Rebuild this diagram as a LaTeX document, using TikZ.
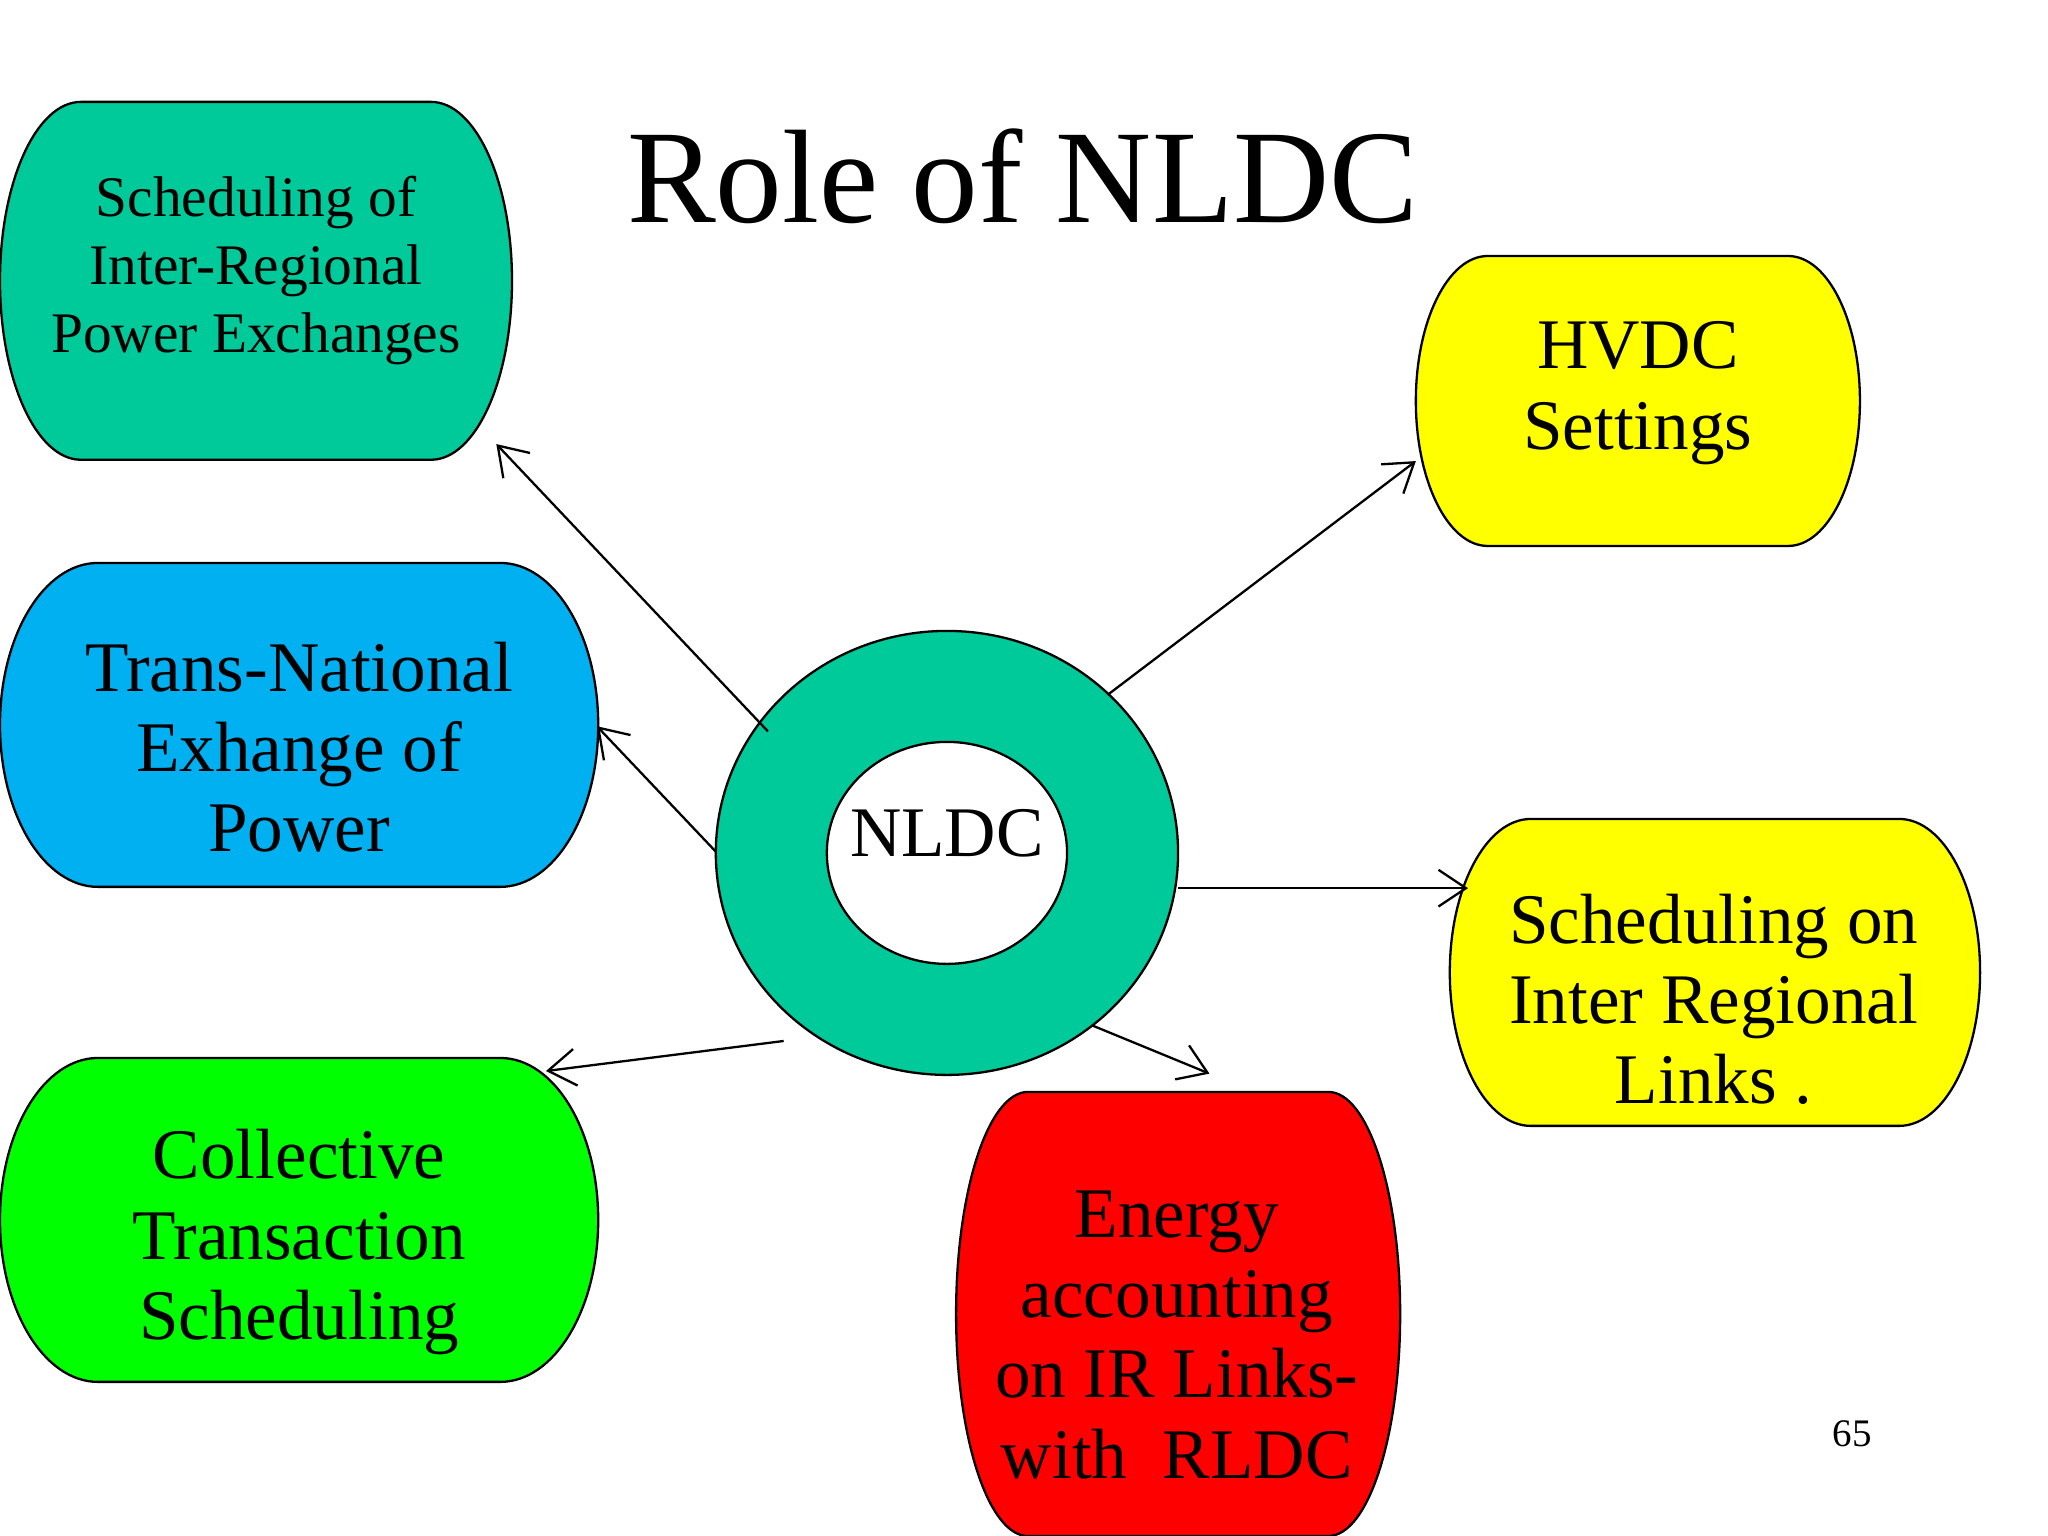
\documentclass[tikz,border=0pt]{standalone}
\usepackage{fontspec}
\setmainfont{Liberation Serif}
\usetikzlibrary{arrows.meta}
\definecolor{teal1}{HTML}{00C99A}
\definecolor{blue1}{HTML}{00B0F0}
\definecolor{green1}{HTML}{00FF00}
\definecolor{red1}{HTML}{FF0000}
\definecolor{yellow1}{HTML}{FFFF00}
\newcommand{\mypill}[7]{% x1 y1 x2 y2 a color name
  \pgfmathsetmacro{\pa}{#1+#5}\pgfmathsetmacro{\pb}{#3-#5}
  \pgfmathsetmacro{\pm}{(#2+#4)/2}\pgfmathsetmacro{\pk}{0.552*#5}
  \pgfmathsetmacro{\pkb}{0.552*(#4-#2)/2}
  \filldraw[fill=#6,draw=black,line width=1pt] (\pa,#2) -- (\pb,#2)
   .. controls (\pb+\pk,#2) and (#3,\pm-\pkb) .. (#3,\pm)
   .. controls (#3,\pm+\pkb) and (\pb+\pk,#4) .. (\pb,#4)
   -- (\pa,#4)
   .. controls (\pa-\pk,#4) and (#1,\pm+\pkb) .. (#1,\pm)
   .. controls (#1,\pm-\pkb) and (\pa-\pk,#2) .. (\pa,#2) -- cycle;
  \coordinate (#7) at ({(#1+#3)/2},\pm);
}
\tikzset{arr/.style={-{Straight Barb[length=12pt,width=16pt]},line width=1pt},
 big/.style={align=center,font=\fontsize{31}{35}\selectfont}}
\begin{document}
\begin{tikzpicture}[x=0.02cm,y=-0.02cm]
\useasboundingbox (0,0) rectangle (1568,1176);
\fill[white] (0,0) rectangle (1568,1176);
\node (title) at (783,135) {\fontsize{58}{60}\selectfont Role of NLDC};
\mypill{0}{78}{392}{352}{62}{teal1}{p1}
\node[align=center,font=\fontsize{25}{29.6}\selectfont] (t1) at (196,207) {Scheduling of\\Inter-Regional\\Power Exchanges};
\mypill{0}{431}{458}{679}{75}{blue1}{p2}
\node[big] (t2) at (229,572) {Trans-National\\Exhange of\\Power};
\mypill{0}{810}{458}{1058}{75}{green1}{p3}
\node[big] (t3) at (229,951) {Collective\\Transaction\\Scheduling};
\mypill{732}{836}{1072}{1176}{55}{red1}{p4}
\node[big] (t4) at (901,1022) {Energy\\accounting\\on IR Links-\\with~ RLDC};
\mypill{1084}{196}{1424}{418}{55}{yellow1}{p5}
\node[big] (t5) at (1254,301) {HVDC\\Settings};
\mypill{1110}{627}{1516}{862}{62}{yellow1}{p6}
\node[big] (t6) at (1312,765) {Scheduling on\\Inter Regional\\Links .};
\filldraw[fill=teal1,draw=black,line width=1pt,even odd rule] (725,653) ellipse [x radius=3.54cm,y radius=3.4cm] (725,653) ellipse [x radius=1.84cm,y radius=1.7cm];
\node[font=\fontsize{31}{35}\selectfont] (nldc) at (725,638) {NLDC};
\node[font=\fontsize{17}{20}\selectfont] (pg) at (1418,1098) {65};
\coordinate (s1) at (588,560); \coordinate (e1) at (380,340);
\coordinate (s2) at (548,652); \coordinate (e2) at (457,556);
\coordinate (s3) at (600,797); \coordinate (e3) at (418,820);
\coordinate (s4) at (836,785); \coordinate (e4) at (926,822);
\coordinate (s5) at (848,532); \coordinate (e5) at (1084,353);
\coordinate (s6) at (902,680); \coordinate (e6) at (1124,680);
\foreach \i in {1,...,6}{\draw[arr] (s\i) -- (e\i);}
\end{tikzpicture}
\end{document}
